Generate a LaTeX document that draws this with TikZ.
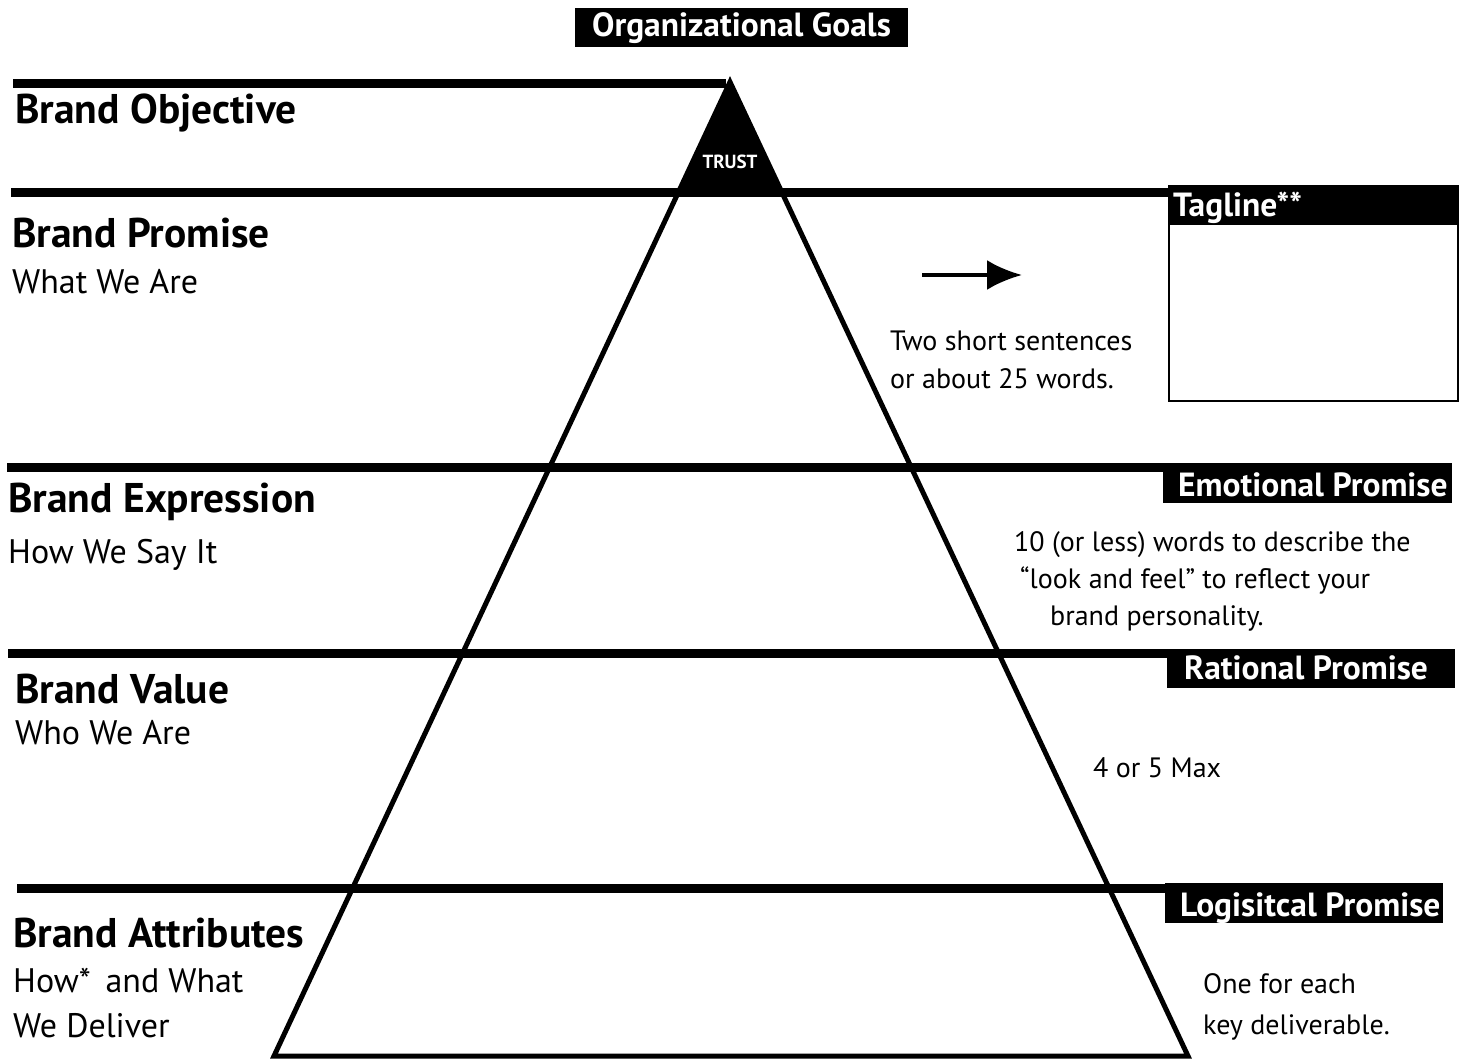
\documentclass[tikz,border=0pt]{standalone}
\usepackage{fontspec}
\setmainfont{PT Sans}
\usetikzlibrary{arrows.meta}
\begin{document}
\begin{tikzpicture}[x=1pt,y=-1pt,
  bar/.style={line width=9pt},
  head/.style={anchor=base west, inner sep=0pt, font=\bfseries\fontsize{41.5}{48}\selectfont},
  sub/.style={anchor=base west, inner sep=0pt, font=\fontsize{34}{40}\selectfont},
  note/.style={anchor=base west, inner sep=0pt, font=\fontsize{28}{34}\selectfont},
  boxtext/.style={anchor=base west, inner sep=0pt, text=white, font=\bfseries\fontsize{33.5}{38}\selectfont},
  blackbox/.style={fill=black, anchor=north west, inner sep=0pt},
  edge/.style={line width=5pt, line join=miter}
]
\useasboundingbox (0,0) rectangle (1465,1062);

% top label
\node[blackbox, minimum width=333pt, minimum height=39pt] (goalsBox) at (575,8) {};
\node[boxtext, anchor=base] (goals) at (741.5,37) {Organizational Goals};

% tagline box
\node[draw, line width=1.5pt, anchor=north west, minimum width=289pt, minimum height=215pt, inner sep=0pt] (tagBox) at (1168,185) {};
\node[blackbox, minimum width=289pt, minimum height=40pt] (tagHead) at (1168,185) {};
\node[boxtext] (tagText) at (1173,216) {Tagline**};

% right black labels
\node[blackbox, minimum width=289pt, minimum height=40pt] (emoBox) at (1163,463) {};
\node[boxtext] (emoText) at (1178,496) {Emotional Promise};
\node[blackbox, minimum width=288pt, minimum height=39pt] (ratBox) at (1167,649) {};
\node[boxtext] (ratText) at (1184,679) {Rational Promise};
\node[blackbox, minimum width=278pt, minimum height=40pt] (logBox) at (1165,883) {};
\node[boxtext] (logText) at (1180,916) {Logisitcal Promise};

% pyramid
\coordinate (apex) at (730,82);
\coordinate (bl) at (274,1056);
\coordinate (br) at (1188,1056);
\fill (apex) -- (678.5,192) -- (781.5,192) -- cycle;
\draw[edge] (apex) -- (bl) -- (br) -- cycle;
\node[anchor=base, inner sep=0pt, text=white, font=\bfseries\fontsize{19}{22}\selectfont] (trust) at (730,168) {TRUST};

% horizontal bars
\coordinate (l1) at (13,83.5);
\coordinate (l1e) at (726,83.5);
\draw[bar] (l1) -- (l1e);
\coordinate (l2) at (11,192);
\draw[bar] (l2) -- (l2 -| tagBox.west);
\coordinate (l3) at (7,467);
\draw[bar] (l3) -- (l3 -| emoBox.west);
\coordinate (l4) at (8,653);
\draw[bar] (l4) -- (l4 -| ratBox.west);
\coordinate (l5) at (17,888);
\draw[bar] (l5) -- (l5 -| logBox.west);

% left labels
\node[head] (obj) at (15,124) {Brand Objective};
\node[head] (prom) at (12,247) {Brand Promise};
\node[sub] (promS) at (12,293) {What We Are};
\node[head] (expr) at (8,512) {Brand Expression};
\node[sub] (exprS) at (8,563) {How We Say It};
\node[head] (val) at (15,703) {Brand Value};
\node[sub] (valS) at (15,744) {Who We Are};
\node[head] (attr) at (13,947) {Brand Attributes};
\node[sub] (attrS1) at (13,992) {How*\, and What};
\node[sub] (attrS2) at (13,1037) {We Deliver};

% arrow and notes
\coordinate (arS) at (922,275);
\coordinate (arE) at (1022,275);
\draw[line width=4pt, -{Latex[length=35pt,width=30pt]}] (arS) -- (arE);
\node[note] (n1a) at (890,350) {Two short sentences};
\node[note] (n1b) at (890,388) {or about 25 words.};
\node[note] (n2a) at (1014,551) {10 (or less) words to describe the};
\node[note] (n2b) at (1020,588) {“look and feel” to reflect your};
\node[note] (n2c) at (1050,625) {brand personality.};
\node[note] (n3) at (1093,777) {4 or 5 Max};
\node[note] (n4a) at (1203,993) {One for each};
\node[note] (n4b) at (1203,1034) {key deliverable.};
\end{tikzpicture}
\end{document}
